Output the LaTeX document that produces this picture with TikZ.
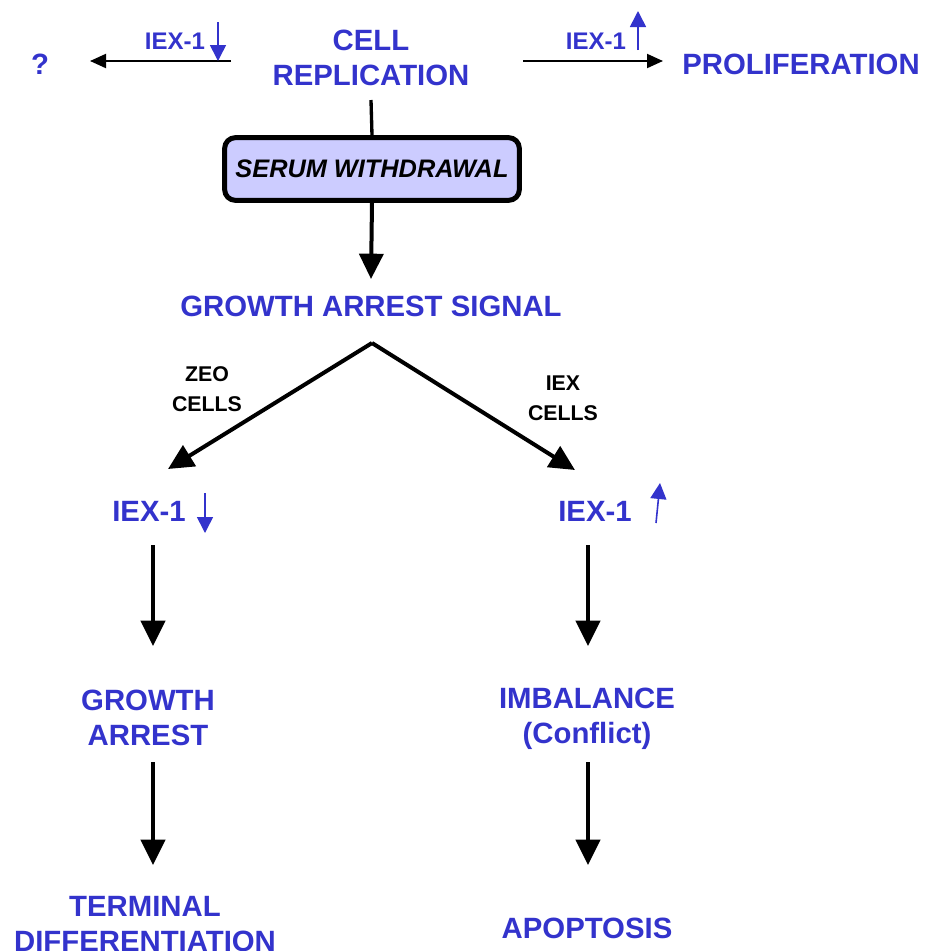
\documentclass[tikz,border=0pt]{standalone}
\usepackage{fontspec}
\setmainfont{Liberation Sans}
\usetikzlibrary{arrows.meta}
\definecolor{lblue}{HTML}{3333CC}
\definecolor{boxfill}{HTML}{CCCCFF}
\begin{document}
\begin{tikzpicture}[x=0.75pt,y=-0.75pt,
  mainlbl/.style={text=lblue,font=\fontsize{22}{26}\selectfont\bfseries,align=center,inner sep=0pt},
  smalllbl/.style={text=lblue,font=\fontsize{18}{22}\selectfont\bfseries,inner sep=0pt},
  cellslbl/.style={text=black,font=\fontsize{16}{22.5}\selectfont\bfseries,align=center,inner sep=0pt},
  thinarr/.style={line width=1.5pt,-{Triangle[length=12pt,width=10.5pt]}},
  thickarr/.style={line width=3pt,-{Triangle[length=19pt,width=18pt]}},
  bluearr/.style={draw=lblue,line width=1.2pt,-{Triangle[length=12pt,width=12pt]},color=lblue},
  boxsty/.style={draw=black,fill=boxfill,line width=3.75pt,rounded corners=8pt,minimum width=221pt,minimum height=47pt,inner sep=0pt,font=\fontsize{19}{22}\selectfont\bfseries\itshape}
]
\useasboundingbox (0,0) rectangle (926,951);
% top row
\node[mainlbl] (q) at (40,64) {?};
\node[mainlbl] (cell) at (371,58) {CELL\\REPLICATION};
\node[mainlbl] (prolif) at (801,64) {PROLIFERATION};
\node[smalllbl] (iexa) at (175,41) {IEX-1};
\node[smalllbl] (iexb) at (596,41) {IEX-1};
\coordinate (la) at (231,61);
\coordinate (lb) at (90,61);
\coordinate (ra) at (523,61);
\coordinate (rb) at (663,61);
\draw[thinarr] (la) -- (lb);
\draw[thinarr] (ra) -- (rb);
\coordinate (da1) at (218,22);
\coordinate (da2) at (218,61);
\coordinate (ua1) at (638,50);
\coordinate (ua2) at (638,11);
\draw[bluearr] (da1) -- (da2);
\draw[bluearr] (ua1) -- (ua2);
% serum box
\coordinate (ctop) at (371,100);
\node[boxsty] (serum) at (372,169) {SERUM WITHDRAWAL};
\draw[line width=2.5pt] (ctop) -- (serum.north);
\node[mainlbl] (gas) at (371,306) {GROWTH ARREST SIGNAL};
\coordinate (gtop) at (371,279);
\draw[thickarr] (serum.south) -- (gtop);
% split
\coordinate (apex) at (372,343);
\coordinate (lt) at (168,469);
\coordinate (rt) at (575,470);
\draw[thickarr] (apex) -- (lt);
\draw[thickarr] (apex) -- (rt);
\node[cellslbl] (zeo) at (207,389) {ZEO\\CELLS};
\node[cellslbl] (iexc) at (563,398) {IEX\\CELLS};
% IEX-1 level
\node[mainlbl] (iexl) at (149,511) {IEX-1};
\node[mainlbl] (iexr) at (595,511) {IEX-1};
\coordinate (lda1) at (205,493);
\coordinate (lda2) at (205,533);
\coordinate (rua1) at (656,523);
\coordinate (rua2) at (660,483);
\draw[bluearr] (lda1) -- (lda2);
\draw[bluearr] (rua1) -- (rua2);
% lower
\node[mainlbl] (ga) at (148,718) {GROWTH\\ARREST};
\node[mainlbl] (imb) at (587,719) {IMBALANCE\\(Conflict)};
\node[mainlbl] (td) at (145,924) {TERMINAL\\DIFFERENTIATION};
\node[mainlbl] (apo) at (587,928) {APOPTOSIS};
\coordinate (l1a) at (153,545); \coordinate (l1b) at (153,646);
\coordinate (r1a) at (588,545); \coordinate (r1b) at (588,646);
\coordinate (l2a) at (153,762); \coordinate (l2b) at (153,865);
\coordinate (r2a) at (588,762); \coordinate (r2b) at (588,865);
\draw[thickarr] (l1a) -- (l1b);
\draw[thickarr] (r1a) -- (r1b);
\draw[thickarr] (l2a) -- (l2b);
\draw[thickarr] (r2a) -- (r2b);
\end{tikzpicture}
\end{document}
